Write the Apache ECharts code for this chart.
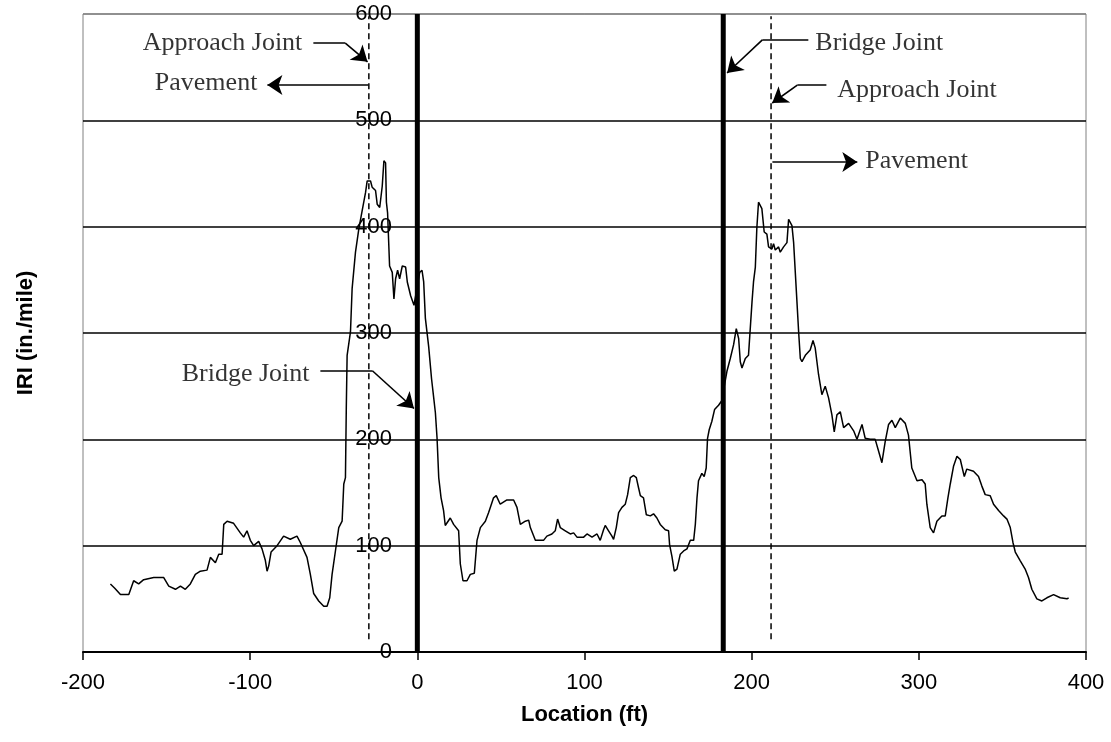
<!DOCTYPE html>
<html><head><meta charset="utf-8">
<script src="https://cdn.jsdelivr.net/npm/echarts@6/dist/echarts.min.js"></script>
<style>html,body{margin:0;padding:0;background:#fff}#c{width:1111px;height:742px}</style>
</head><body><div id="c"></div>
<script>
const locationFt = [-183.6,-181,-177.6,-172.6,-169.7,-166.7,-163.7,-157.7,-151.7,-148.7,-144.7,-141.7,-138.8,-135.8,-132.8,-129.8,-125.8,-123.8,-120.8,-118.8,-116.8,-115.8,-113.8,-109.9,-105.9,-103.9,-101.9,-99.9,-97.9,-94.9,-92.9,-90.9,-89.9,-88.9,-87.5,-83.9,-80,-76,-72,-70,-66,-64,-62,-59,-56,-54,-52.4,-51,-49,-47,-45,-44,-43,-42.5,-42,-40,-39,-37,-35,-33,-31,-30,-28,-27,-25,-24,-22.5,-21,-20,-19,-18.5,-17.8,-16.6,-15,-14,-13,-11.8,-10.6,-9,-7,-6,-4,-2,1.4,2.8,3.8,4.8,6.8,8.5,9.8,10.8,11.8,12.8,14.2,15.7,16.7,19.7,21.7,24.7,25.7,27.3,29.7,31.7,34.1,35.7,37.7,40.7,42.6,45.6,47.2,49.6,53.6,57.6,59.6,61.6,64.6,66.6,67.6,70.6,75.5,77.5,80.5,82.5,83.9,85.5,88.5,91.5,93.5,95.5,99.5,101.5,104.5,107.5,109.4,111.4,112.4,114.4,116.4,117.4,119,120.4,122.4,124.4,125.8,127.4,129.4,131,132.4,133.4,135.3,137,139.4,141.3,143.3,145.3,148.3,150.3,150.9,152.3,153.7,155.3,157.3,159.3,161.3,163.3,165.3,166.3,167.3,168.2,170.2,171.6,172.8,173.6,174.6,176.2,177.8,180.2,182,185.2,187.2,189.2,190.8,192.2,193.2,194.2,196.2,198.1,199.2,200.2,201.1,202.2,203.1,204.1,205.1,206.1,207.5,209.1,210.1,212.1,213.1,214.1,216.1,217.1,219.1,221.1,222.1,223.1,224.1,225.1,226.1,227.1,228.1,229.1,230.1,232.1,235,236.7,238,240,242,244,246,248,249.4,251,253,255,258,261,263,266,267.9,270.9,273.9,275.9,277.9,279.9,281.9,283.9,285.9,288.9,291.9,293.8,295.8,298.9,301.9,303.8,304.8,306.8,308.8,310.8,313.8,315.8,317.4,318.8,320.8,322.8,324.8,327.2,328.7,332.7,335.7,337.7,339.7,342.7,344.7,347.7,350.7,352.7,354.7,356.3,357.7,360.6,363.6,365.6,367.6,370.6,373.6,376.6,380.6,384.6,388.6,389.6];
const iriValues = [64,60,54,54,67,64,68,70,70,62,59,62,59,64,73,76,77,89,84,92,92,120,123,121,112,108,114,105,100,104,97,86,76,81,94,100,109,106,109,103,89,73,55,48,43,43,51,73,95,117,123,158,164,229,279,301,342,376,398,415,432,443,443,437,434,421,418,438,462,460,423,413,363,357,332,351,359,351,363,362,348,335,326,357,359,348,314,287,257,239,225,201,164,145,133,119,126,120,114,83,67,67,73,74,105,117,123,131,145,147,139,143,143,136,120,123,124,117,105,105,109,111,114,125,117,114,111,112,108,108,111,108,111,105,115,119,114,109,106,117,131,136,139,148,164,166,164,154,147,145,129,128,130,126,120,115,114,101,90,76,78,92,95,97,105,105,120,145,161,168,165,173,201,209,217,228,232,236,264,276,289,304,295,273,267,276,279,279,329,348,362,399,423,423,417,395,393,381,379,384,378,381,376,381,385,407,407,401,385,357,329,301,276,273,279,284,293,286,261,242,250,239,223,207,223,226,211,215,208,200,214,201,200,200,189,178,198,214,218,211,220,215,204,173,161,162,158,139,117,112,123,128,128,145,158,175,184,181,165,172,170,165,156,148,147,139,133,128,125,117,103,94,86,78,70,59,50,48,51,54,51,50,51];
const bridgeJoints = [0, 183];
const approachJoints = [-29, 211.6];
const annotationTexts = ['Approach Joint','Pavement','Bridge Joint','Bridge Joint','Approach Joint','Pavement'];

const profile = locationFt.map((x, i) => [x, iriValues[i]]);

const serif = 'Liberation Serif';
const sans = 'Liberation Sans';

// leader lines: each is a polyline whose last segment carries the arrowhead
const arrows = [
  [[-62.2, 572.7], [-43.1, 572.7], [-29.8, 555]],
  [[-29.3, 533.2], [-89.7, 533.2]],
  [[-58, 264.5], [-26.9, 264.5], [-2, 229]],
  [[233.9, 575.6], [206.4, 575.6], [185.3, 544.5]],
  [[244.7, 533.2], [227.3, 533.2], [212.3, 516.3]],
  [[212.4, 460.8], [263.2, 460.8]]
];
const textAnchors = [
  {c: [-68.8, 572.7], align: 'right'},
  {c: [-95.7, 534.5], align: 'right'},
  {c: [-64.5, 261.4], align: 'right'},
  {c: [238.1, 572.7], align: 'left'},
  {c: [251.2, 527.9], align: 'left'},
  {c: [268.0, 461.4], align: 'left'}
];

const plainSegs = [], headSegs = [];
arrows.forEach(a => {
  for (let i = 0; i < a.length - 1; i++) {
    (i === a.length - 2 ? headSegs : plainSegs).push({coords: [a[i], a[i + 1]]});
  }
});

const series = [
  {
    type: 'line', data: profile, showSymbol: false, symbol: 'none',
    lineStyle: {color: '#000', width: 1.5}, z: 3, silent: true, animation: false
  }
];
bridgeJoints.forEach(x => series.push({
  type: 'line', data: [[x, 0], [x, 600]], showSymbol: false, symbol: 'none',
  lineStyle: {color: '#000', width: 5}, z: 4, silent: true, animation: false
}));
approachJoints.forEach(x => series.push({
  type: 'line', data: [[x, 12], [x, 598]], showSymbol: false, symbol: 'none',
  lineStyle: {color: '#000', width: 1.5, type: [6, 4]}, z: 4, silent: true, animation: false
}));
series.push({
  type: 'lines', coordinateSystem: 'cartesian2d',
  symbol: ['none', 'none'],
  lineStyle: {color: '#000', width: 1.6, opacity: 1, curveness: 0},
  data: plainSegs, z: 6, silent: true, animation: false
});
series.push({
  type: 'lines', coordinateSystem: 'cartesian2d',
  symbol: ['none', 'arrow'], symbolSize: 15,
  lineStyle: {color: '#000', width: 1.6, opacity: 1, curveness: 0},
  data: headSegs, z: 6, silent: true, animation: false
});
series.push({
  type: 'scatter', symbolSize: 0, z: 7, silent: true, animation: false,
  data: textAnchors.map((t, i) => ({
    value: t.c,
    label: {
      show: true, position: 'inside', formatter: annotationTexts[i],
      align: t.align, verticalAlign: 'middle',
      fontFamily: serif, fontSize: 26, color: '#000', textBorderWidth: 0
    }
  }))
});

const chart = echarts.init(document.getElementById('c'), null, {renderer: 'canvas'});
chart.setOption({
  animation: false,
  backgroundColor: '#fff',
  grid: {left: 83, right: 25, top: 14, bottom: 90, show: true, borderColor: '#808080', borderWidth: 1,
         containLabel: false, outerBoundsMode: 'none'},
  xAxis: {
    type: 'value', min: -200, max: 400, interval: 100,
    name: 'Location (ft)', nameLocation: 'middle', nameGap: 52,
    nameTextStyle: {fontFamily: sans, fontWeight: 'bold', fontSize: 22, color: '#000'},
    axisLine: {show: true, onZero: false, lineStyle: {color: '#000', width: 2}},
    axisTick: {show: true, length: 8, inside: false, lineStyle: {color: '#000', width: 1.5}},
    axisLabel: {fontFamily: sans, fontSize: 22, color: '#000', margin: 20},
    splitLine: {show: false}
  },
  yAxis: {
    type: 'value', min: 0, max: 600, interval: 100, position: 'left',
    name: 'IRI (in./mile)', nameLocation: 'middle', nameRotate: 90, nameGap: 46,
    nameTextStyle: {fontFamily: sans, fontWeight: 'bold', fontSize: 22, color: '#000'},
    axisLine: {show: false, onZero: false},
    axisTick: {show: false},
    // tick labels sit beside the x = 0 joint line, as in the original
    axisLabel: {fontFamily: sans, fontSize: 22, color: '#000', margin: -309},
    splitLine: {show: true, lineStyle: {color: ['#000','#000','#000','#000','#000','#000','#808080'], width: 1.5}}
  },
  series: series
});
</script></body></html>
